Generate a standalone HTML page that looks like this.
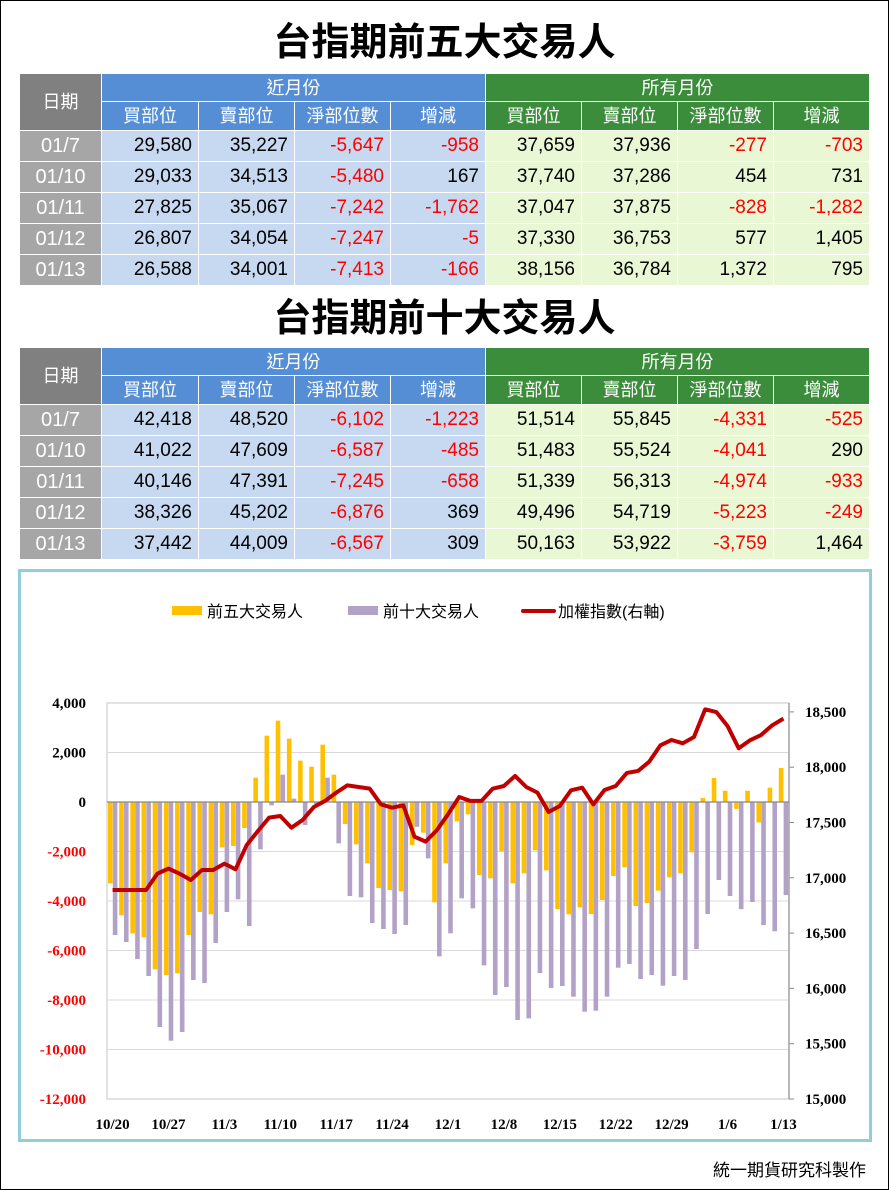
<!DOCTYPE html>
<html><head><meta charset="utf-8">
<style>
body{margin:0;background:#fff;}
#page{position:relative;width:887px;height:1188px;border:1px solid #000;overflow:hidden;background:#fff;font-family:"Liberation Sans","Noto Sans CJK TC",sans-serif;}
.title{position:absolute;left:0;width:887px;text-align:center;font-size:38px;font-weight:bold;font-family:"Liberation Sans","Noto Sans CJK TC",sans-serif;line-height:44px;}
table{position:absolute;left:18px;border-collapse:collapse;table-layout:fixed;font-size:19px;}
td{border:1px solid #fff;padding:0 6px 0 0;text-align:right;height:30px;line-height:20px;color:#000;overflow:hidden;}
td.h{text-align:center;color:#fff;padding:0;font-size:18px;}
td.d{background:#a6a6a6;color:#fff;text-align:center;padding:0;font-size:20px;}
.hb{background:#558ed5;}.hg{background:#3b8c3b;}.hd{background:#808080;}
.nb{background:#c6d9f0;}
.ng{background:#e9f7d5;}
.r{color:#ff0000;}
tr.h1 td{height:27px;}
tr.h2 td{height:28px;}
#chartbox{position:absolute;left:17px;top:568px;width:848px;height:567px;border:3px solid #92cddc;}
#footer{position:absolute;left:712px;top:1155px;font-size:17px;}
</style></head><body>
<div id="page">
<div class="title" style="top:20px">台指期前五大交易人</div>
<table style="top:72px">
<colgroup><col style="width:82px"><col style="width:97px"><col style="width:96px"><col style="width:96px"><col style="width:95px"><col style="width:96px"><col style="width:96px"><col style="width:96px"><col style="width:96px"></colgroup>
<tr class="h1"><td class="h hd" rowspan="2">日期</td><td class="h hb" colspan="4">近月份</td><td class="h hg" colspan="4">所有月份</td></tr>
<tr class="h2"><td class="h hb">買部位</td><td class="h hb">賣部位</td><td class="h hb">淨部位數</td><td class="h hb">增減</td><td class="h hg">買部位</td><td class="h hg">賣部位</td><td class="h hg">淨部位數</td><td class="h hg">增減</td></tr>
<tr><td class="d">01/7</td><td class="nb">29,580</td><td class="nb">35,227</td><td class="nb r">-5,647</td><td class="nb r">-958</td><td class="ng">37,659</td><td class="ng">37,936</td><td class="ng r">-277</td><td class="ng r">-703</td></tr>
<tr><td class="d">01/10</td><td class="nb">29,033</td><td class="nb">34,513</td><td class="nb r">-5,480</td><td class="nb">167</td><td class="ng">37,740</td><td class="ng">37,286</td><td class="ng">454</td><td class="ng">731</td></tr>
<tr><td class="d">01/11</td><td class="nb">27,825</td><td class="nb">35,067</td><td class="nb r">-7,242</td><td class="nb r">-1,762</td><td class="ng">37,047</td><td class="ng">37,875</td><td class="ng r">-828</td><td class="ng r">-1,282</td></tr>
<tr><td class="d">01/12</td><td class="nb">26,807</td><td class="nb">34,054</td><td class="nb r">-7,247</td><td class="nb r">-5</td><td class="ng">37,330</td><td class="ng">36,753</td><td class="ng">577</td><td class="ng">1,405</td></tr>
<tr><td class="d">01/13</td><td class="nb">26,588</td><td class="nb">34,001</td><td class="nb r">-7,413</td><td class="nb r">-166</td><td class="ng">38,156</td><td class="ng">36,784</td><td class="ng">1,372</td><td class="ng">795</td></tr>
</table>
<div class="title" style="top:296px">台指期前十大交易人</div>
<table style="top:346px">
<colgroup><col style="width:82px"><col style="width:97px"><col style="width:96px"><col style="width:96px"><col style="width:95px"><col style="width:96px"><col style="width:96px"><col style="width:96px"><col style="width:96px"></colgroup>
<tr class="h1"><td class="h hd" rowspan="2">日期</td><td class="h hb" colspan="4">近月份</td><td class="h hg" colspan="4">所有月份</td></tr>
<tr class="h2"><td class="h hb">買部位</td><td class="h hb">賣部位</td><td class="h hb">淨部位數</td><td class="h hb">增減</td><td class="h hg">買部位</td><td class="h hg">賣部位</td><td class="h hg">淨部位數</td><td class="h hg">增減</td></tr>
<tr><td class="d">01/7</td><td class="nb">42,418</td><td class="nb">48,520</td><td class="nb r">-6,102</td><td class="nb r">-1,223</td><td class="ng">51,514</td><td class="ng">55,845</td><td class="ng r">-4,331</td><td class="ng r">-525</td></tr>
<tr><td class="d">01/10</td><td class="nb">41,022</td><td class="nb">47,609</td><td class="nb r">-6,587</td><td class="nb r">-485</td><td class="ng">51,483</td><td class="ng">55,524</td><td class="ng r">-4,041</td><td class="ng">290</td></tr>
<tr><td class="d">01/11</td><td class="nb">40,146</td><td class="nb">47,391</td><td class="nb r">-7,245</td><td class="nb r">-658</td><td class="ng">51,339</td><td class="ng">56,313</td><td class="ng r">-4,974</td><td class="ng r">-933</td></tr>
<tr><td class="d">01/12</td><td class="nb">38,326</td><td class="nb">45,202</td><td class="nb r">-6,876</td><td class="nb">369</td><td class="ng">49,496</td><td class="ng">54,719</td><td class="ng r">-5,223</td><td class="ng r">-249</td></tr>
<tr><td class="d">01/13</td><td class="nb">37,442</td><td class="nb">44,009</td><td class="nb r">-6,567</td><td class="nb">309</td><td class="ng">50,163</td><td class="ng">53,922</td><td class="ng r">-3,759</td><td class="ng">1,464</td></tr>
</table>
<div id="chartbox"></div>
<svg id="chart" width="889" height="1190" style="position:absolute;left:0;top:0"></svg>
<div id="footer">統一期貨研究科製作</div>
</div>
<script>
const dateLabels=["10/20","10/27","11/3","11/10","11/17","11/24","12/1","12/8","12/15","12/22","12/29","1/6","1/13"];
const leftTicks=[4000,2000,0,-2000,-4000,-6000,-8000,-10000,-12000];
const rightTicks=[18500,18000,17500,17000,16500,16000,15500,15000];
const top5=[-3287,-4580,-5307,-5469,-6762,-6991,-6924,-5375,-4445,-4539,-1832,-1778,-1051,983,2680,3287,2559,1670,1428,2317,1105,-889,-1711,-2478,-3475,-3556,-3610,-1738,-1240,-4054,-2478,-781,-498,-2950,-3085,-1994,-3287,-2883,-1953,-2761,-4324,-4539,-4257,-4526,-3960,-2990,-2640,-4203,-4082,-3583,-3044,-2883,-2034,162,970,454,-277,454,-828,577,1372];
const top10=[-5375,-5657,-6345,-7031,-9092,-9645,-9294,-7193,-7314,-5698,-4445,-3933,-5011,-1913,-135,1105,135,-929,-80,983,-1670,-3798,-3852,-4890,-5132,-5334,-4970,-1000,-2277,-6237,-5307,-3893,-4297,-6600,-7799,-7476,-8809,-8742,-6910,-7516,-7435,-7866,-8473,-8432,-7866,-6695,-6546,-7153,-6991,-7422,-7031,-7193,-5940,-4526,-3152,-3798,-4331,-4041,-4974,-5223,-3759];
const taiex=[16890,16890,16890,16890,17037,17083,17037,16980,17071,17071,17128,17077,17297,17423,17544,17559,17453,17523,17640,17695,17770,17836,17821,17806,17664,17634,17655,17372,17327,17430,17574,17731,17695,17695,17806,17830,17921,17821,17770,17595,17649,17791,17815,17664,17794,17830,17948,17966,18050,18198,18246,18216,18273,18523,18499,18373,18171,18243,18291,18379,18439];
const NS="http://www.w3.org/2000/svg";
const svg=document.getElementById('chart');
const X0=106,X1=788,Y0=702,Y1=1098;
const n=top5.length, bw=(X1-X0)/n;
const cx=i=>X0+bw*(i+0.5);
const yL=v=>Y0+(4000-v)/16000*(Y1-Y0);
const yR=v=>Y1-(v-15000)/500*55.3;
function mk(t,a){const e=document.createElementNS(NS,t);for(const k in a)e.setAttribute(k,a[k]);svg.appendChild(e);return e;}
const frame=mk('rect',{x:X0,y:Y0,width:X1-X0,height:Y1-Y0,fill:'none',stroke:'#d9d9d9','stroke-width':1.5});


leftTicks.forEach(v=>{
  const y=yL(v);
  if(v!==0&&v!==-12000&&v!==4000){const g=mk('line',{x1:X0,x2:X1,y1:y,y2:y,stroke:'#d9d9d9','stroke-width':1});
  
  }
  const t=mk('text',{x:85,y:y+5,'text-anchor':'end','font-family':'Liberation Serif,serif','font-weight':'bold','font-size':15,fill:v<0?'#ff0000':'#000'});
  t.textContent=v.toLocaleString('en-US');
  
  
});
rightTicks.forEach(v=>{
  const y=yR(v);
  const tk=mk('line',{x1:X1,x2:X1+5,y1:y,y2:y,stroke:'#888','stroke-width':1});
  
  
  const t=mk('text',{x:804,y:y+5,'font-family':'Liberation Serif,serif','font-weight':'bold','font-size':15,fill:'#000'});
  t.textContent=v.toLocaleString('en-US');
  
  
});
const ax=mk('line',{x1:X1,x2:X1,y1:Y0,y2:Y1,stroke:'#a6a6a6','stroke-width':1.5});


const z=yL(0);
for(let i=0;i<n;i++){
  const a=top5[i];
  const r1=mk('rect',{x:cx(i)-4.6,y:Math.min(z,yL(a)),width:4.6,height:Math.abs(yL(a)-z),fill:'#ffc000'});
  
  
  const b=top10[i];
  const r2=mk('rect',{x:cx(i)+0.2,y:Math.min(z,yL(b)),width:4.6,height:Math.abs(yL(b)-z),fill:'#b3a2c7'});
  
  
}
const zl=mk('line',{x1:X0,x2:X1,y1:z,y2:z,stroke:'#888','stroke-width':1.2});


const pl=mk('polyline',{points:taiex.map((v,i)=>cx(i)+','+yR(v)).join(' '),fill:'none',stroke:'#c00000','stroke-width':4,'stroke-linejoin':'round'});


dateLabels.forEach((d,k)=>{
  const t=mk('text',{x:cx(k*5),y:1128,'text-anchor':'middle','font-family':'Liberation Serif,serif','font-weight':'bold','font-size':15,fill:'#000'});
  t.textContent=d;
  
  
});
const leg=[['#ffc000','前五大交易人',171,'rect'],['#b3a2c7','前十大交易人',347,'rect'],['#c00000','加權指數(右軸)',522,'line']];
leg.forEach(l=>{
  let s;
  if(l[3]==='rect'){s=mk('rect',{x:l[2],y:605,width:30,height:9,fill:l[0]});}
  else{s=mk('line',{x1:l[2],x2:l[2]+31,y1:610,y2:610,stroke:l[0],'stroke-width':4,'stroke-linecap':'round'});}
  
  
  const t=mk('text',{x:l[2]+35,y:616,'font-family':'Liberation Sans,Noto Sans CJK TC,sans-serif','font-size':16,fill:'#000'});
  t.textContent=l[1];
  
  
});
</script>
</body></html>
